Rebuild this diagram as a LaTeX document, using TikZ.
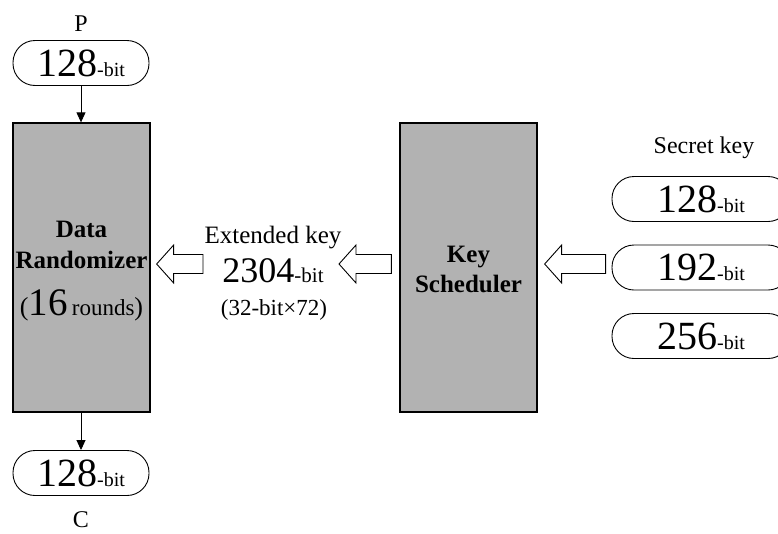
\documentclass[tikz,border=0pt]{standalone}
\usepackage{fontspec}
\setmainfont{Liberation Serif}
\usetikzlibrary{arrows.meta,calc}
\definecolor{boxgray}{RGB}{178,178,178}
\tikzset{
  block/.style = {draw, line width=1.3pt, fill=boxgray, minimum width=137pt, minimum height=289pt, inner sep=0pt},
  pill/.style = {draw, line width=0.9pt, rounded corners=22pt, minimum height=45pt, inner sep=0pt},
  txt/.style = {anchor=base, inner sep=0pt, font=\fontsize{24}{24}\selectfont},
  boldtxt/.style = {txt, font=\fontsize{25}{25}\selectfont\bfseries},
  flow/.style = {-{Triangle[length=10pt,width=9pt]}, line width=0.9pt},
  hollow/.style = {draw, fill=white, line width=0.9pt, line join=miter},
}
\newcommand{\bitsize}[1]{{\fontsize{40}{40}\selectfont #1}{\fontsize{20}{20}\selectfont -bit}}
% #1 = tip, #2 = tail
\newcommand{\hollowarrow}[2]{%
  \draw[hollow] (#1) -- ++(17,-19) -- ++(0,9.5) -- ($(#2)+(0,-9.5)$)
    -- ($(#2)+(0,9.5)$) -- ($(#1)+(17,9.5)$) -- ++(0,9.5) -- cycle;}

\begin{document}
\begin{tikzpicture}[x=1pt,y=-1pt]
\useasboundingbox (0,0) rectangle (778,533);

% Data randomizer
\node[block] (dr) at (81.5,267.5) {};
\node[boldtxt] (dr1) at (81.5,237) {Data};
\node[boldtxt] (dr2) at (81.5,268) {Randomizer};
\node[txt, font=\fontsize{26}{26}\selectfont] (dr3) at (81.5,315) {({\fontsize{39}{39}\selectfont 16}\,{\fontsize{23}{23}\selectfont rounds})};

\node[pill, minimum width=136pt] (pin) at (81,63) {\bitsize{128}};
\node[txt] (p) at (81,31) {P};
\node[pill, minimum width=136pt] (cout) at (81,473) {\bitsize{128}};
\node[txt] (c) at (81,527.5) {C};
\draw[flow] (pin.south) -- (pin.south |- dr.north);
\draw[flow] (dr.south -| cout) -- (cout.north);

% Key scheduler
\node[block] (ks) at (468.5,267.5) {};
\node[boldtxt] (ks1) at (468.5,262) {Key};
\node[boldtxt] (ks2) at (468.5,292) {Scheduler};

% Extended key
\node[txt, font=\fontsize{25}{25}\selectfont] (ek1) at (273,243) {Extended key};
\node[txt] (ek2) at (273,282) {{\fontsize{36}{36}\selectfont 2304}{\fontsize{21}{21}\selectfont -bit}};
\node[txt, font=\fontsize{23}{23}\selectfont] (ek3) at (274,315) {(32-bit×72)};

% Secret key
\node[txt] (sk) at (704,153) {Secret key};
\node[pill, minimum width=178pt] (k128) at (701,199) {\bitsize{128}};
\node[pill, minimum width=178pt] (k192) at (701,267.5) {\bitsize{192}};
\node[pill, minimum width=178pt] (k256) at (701,336) {\bitsize{256}};

% Block arrows
\coordinate (a1tip) at ($(dr.east)+(6,-3.5)$);
\coordinate (a1tail) at (203,264);
\coordinate (a2tip) at (339,264);
\coordinate (a2tail) at ($(ks.west)+(-8,-3.5)$);
\coordinate (a3tip) at ($(ks.east)+(7,-3.5)$);
\coordinate (a3tail) at ($(k192.west)+(-6,-3.5)$);
\hollowarrow{a1tip}{a1tail}
\hollowarrow{a2tip}{a2tail}
\hollowarrow{a3tip}{a3tail}

\end{tikzpicture}
\end{document}
